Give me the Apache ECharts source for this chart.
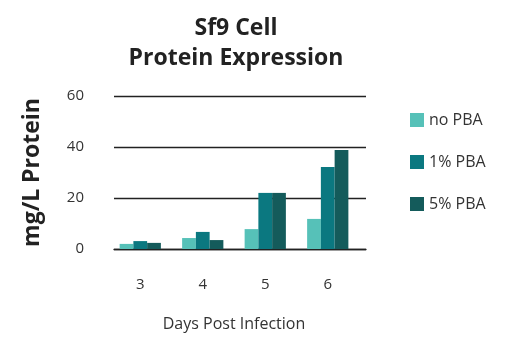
<!DOCTYPE html>
<html><head><meta charset="utf-8">
<script src="https://cdn.jsdelivr.net/npm/echarts@6/dist/echarts.min.js"></script>
<style>html,body{margin:0;padding:0;background:#fff}#c{width:508px;height:353px}</style>
</head><body><div id="c"></div>
<script>
const categories = ['3', '4', '5', '6'];
const noPBA = [2.0, 4.3, 7.8, 11.8];
const pba1 = [3.1, 6.7, 22.0, 32.2];
const pba5 = [2.4, 3.5, 22.0, 38.8];
const seriesNames = ['no PBA', '1% PBA', '5% PBA'];
const yTicks = {min: 0, max: 60, interval: 20};
const colors = ['#56c1b8', '#0b7880', '#145b5b'];
const font = 'Open Sans';
const chart = echarts.init(document.getElementById('c'), null, {renderer: 'canvas'});
chart.setOption({
  animation: false,
  textStyle: {fontFamily: font},
  title: {
    text: 'Sf9 Cell\nProtein Expression',
    left: 231, top: 8, textAlign: 'center',
    textStyle: {fontFamily: font, fontSize: 23, fontWeight: 'bold', color: '#222', lineHeight: 30}
  },
  legend: {
    orient: 'vertical', left: 405, top: 107, itemGap: 26,
    itemWidth: 14, itemHeight: 14, icon: 'rect',
    textStyle: {fontFamily: font, fontSize: 16, color: '#333'},
    data: seriesNames
  },
  grid: [
    {left: 114, right: 142, top: 96, bottom: 104},
    {left: 109, right: 149, top: 96, bottom: 104}
  ],
  xAxis: [
    {
      gridIndex: 0, type: 'category', data: categories,
      axisLine: {show: true, lineStyle: {color: '#222', width: 1.3}},
      axisTick: {show: false}, axisLabel: {show: false}
    },
    {
      gridIndex: 1, type: 'category', data: categories,
      axisLine: {show: false}, axisTick: {show: false},
      axisLabel: {margin: 28, fontSize: 15, color: '#333', fontFamily: font},
      name: 'Days Post Infection', nameLocation: 'middle', nameGap: 67,
      nameTextStyle: {fontSize: 16, color: '#333', fontFamily: font}
    }
  ],
  yAxis: [
    {
      gridIndex: 0, type: 'value', min: yTicks.min, max: yTicks.max, interval: yTicks.interval,
      splitLine: {lineStyle: {color: '#222', width: 1.3}},
      axisLine: {show: false}, axisTick: {show: false},
      axisLabel: {margin: 30, fontSize: 15, color: '#333', fontFamily: font},
      name: 'mg/L Protein', nameLocation: 'middle', nameGap: 70,
      nameTextStyle: {fontSize: 23, fontWeight: 'bold', color: '#222', fontFamily: font}
    },
    {
      gridIndex: 1, type: 'value', min: yTicks.min, max: yTicks.max, interval: yTicks.interval,
      show: false, splitLine: {show: false}
    }
  ],
  series: [
    {name: seriesNames[0], type: 'bar', xAxisIndex: 1, yAxisIndex: 1, data: noPBA, itemStyle: {color: colors[0]}, barGap: '0%', barCategoryGap: '34%', z: 3},
    {name: seriesNames[1], type: 'bar', xAxisIndex: 1, yAxisIndex: 1, data: pba1, itemStyle: {color: colors[1]}, barGap: '0%', barCategoryGap: '34%', z: 3},
    {name: seriesNames[2], type: 'bar', xAxisIndex: 1, yAxisIndex: 1, data: pba5, itemStyle: {color: colors[2]}, barGap: '0%', barCategoryGap: '34%', z: 3}
  ]
});
</script></body></html>
